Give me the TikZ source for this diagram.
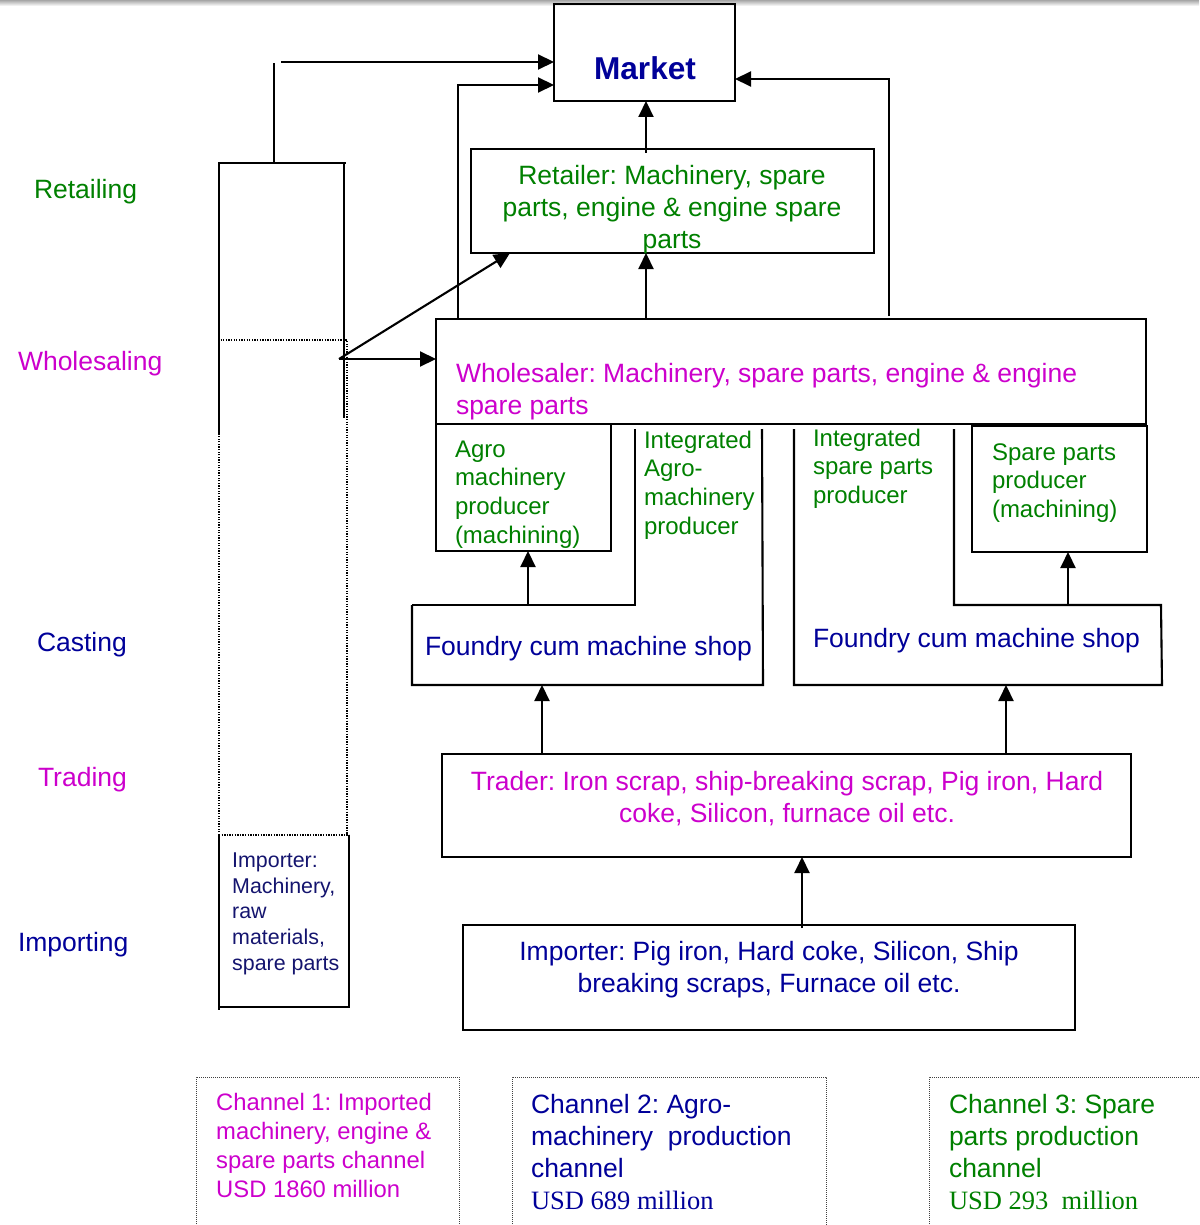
\documentclass[tikz,border=0pt]{standalone}
\usepackage{fontspec}
\setmainfont{Liberation Sans}
\newfontfamily\timesf{Liberation Serif}
\usetikzlibrary{arrows.meta}
\definecolor{cgreen}{RGB}{0,128,0}
\definecolor{cmag}{RGB}{204,0,204}
\definecolor{cnavy}{RGB}{0,0,153}
\definecolor{cdnavy}{RGB}{20,20,110}
\frenchspacing
\tikzset{
  box/.style={draw=black, line width=1.3pt, rectangle, inner sep=0pt, outer sep=0pt, anchor=north west},
  conn/.style={draw=black, line width=2.1pt},
  arr/.style={conn, -{Triangle[length=16pt,width=15pt]}},
  lbl/.style={inner sep=0pt, outer sep=0pt, font=\fontsize{26.5}{32}\selectfont},
  sml/.style={inner sep=0pt, outer sep=0pt, font=\fontsize{24}{28.7}\selectfont, align=left, anchor=base west, text=cgreen},
  dotline/.style={draw=black, line width=1.3pt, dash pattern=on 1.3pt off 1.3pt},
  chbox/.style={draw=black!75, line width=1pt, dash pattern=on 1pt off 1pt}
}
\begin{document}
\begin{tikzpicture}[x=1pt,y=-1pt]
\useasboundingbox (0,0) rectangle (1199,1225);
\shade[top color=black!35, bottom color=white] (0,0) rectangle (1199,6);

% side labels
\node[lbl, anchor=base west, text=cgreen] (lretail) at (34,198.5) {Retailing};
\node[lbl, anchor=base west, text=cmag] (lwhole) at (18,370.5) {Wholesaling};
\node[lbl, anchor=base west, text=cnavy] (lcast) at (37,651.5) {Casting};
\node[lbl, anchor=base west, text=cmag] (ltrade) at (38,786.5) {Trading};
\node[lbl, anchor=base west, text=cnavy] (limport) at (18,951.5) {Importing};

% boxes (text nodes anchored at the baseline of their last line)
\node[box, minimum width=181pt, minimum height=97pt] (mk) at (554,4) {};
\node[inner sep=0pt, anchor=base, text=cnavy, font=\fontsize{31.6}{36}\selectfont\bfseries] (mkt) at (645,80) {Market};

\node[box, minimum width=403pt, minimum height=104pt] (ret) at (471,149) {};
\node[lbl, align=center, anchor=base, text=cgreen] (rett) at (672,248.5) {Retailer: Machinery, spare\\parts, engine \& engine spare\\parts};

\node[box, minimum width=710pt, minimum height=105pt] (whole) at (436,319) {};
\node[lbl, align=left, anchor=base west, text=cmag] (wholet) at (456,414) {Wholesaler: Machinery, spare parts, engine \& engine\\spare parts};

\node[box, minimum width=175pt, minimum height=127pt] (agro) at (436,424) {};
\node[sml] (agrot) at (455,543.1) {Agro\\machinery\\producer\\(machining)};

\node[box, minimum width=175pt, minimum height=126pt] (spp) at (972,426) {};
\node[sml] (sppt) at (992,517.4) {Spare parts\\producer\\(machining)};

\node[sml] (intagro) at (644,534.1) {Integrated\\Agro-\\machinery\\producer};
\node[sml] (intspp) at (813,503.4) {Integrated\\spare parts\\producer};

% foundry shapes
\draw[conn] (412,605) -- (635,605) -- (635,429);
\draw[conn] (412,605) -- (412,685) -- (763,685) -- (762,429);
\draw[conn] (794,429) -- (794,685) -- (1162,685) -- (1161,605) -- (954,605) -- (954,429);
\node[lbl, anchor=base west, text=cnavy] (f1) at (425,655) {Foundry cum machine shop};
\node[lbl, anchor=base west, text=cnavy] (f2) at (813,647.5) {Foundry cum machine shop};

\node[box, minimum width=689pt, minimum height=103pt] (trader) at (442,754) {};
\node[lbl, align=center, anchor=base, text=cmag] (tradert) at (787,822.5) {Trader: Iron scrap, ship-breaking scrap, Pig iron, Hard\\coke, Silicon, furnace oil etc.};

\node[box, minimum width=612pt, minimum height=105pt] (imp) at (463,925) {};
\node[lbl, align=center, anchor=base, text=cnavy] (impt) at (769,992.5) {Importer: Pig iron, Hard coke, Silicon, Ship\\breaking scraps, Furnace oil etc.};

% left channel column
\draw[conn] (219,435) -- (219,163) -- (346,163);
\draw[conn] (344,163) -- (344,418);
\draw[dotline] (219,835) -- (219,340) -- (347,340) -- (347,835);
\draw[dotline] (219,835) -- (349,835);
\draw[conn] (219,835) -- (219,1010);
\draw[conn] (349,835) -- (349,1008);
\draw[conn] (219,1007) -- (349,1007);
\node[inner sep=0pt, align=left, anchor=base west, text=cdnavy, font=\fontsize{21.4}{25.7}\selectfont] (impl) at (232,970.3) {Importer:\\Machinery,\\raw\\materials,\\spare parts};

% named points
\coordinate (ctop) at (274,163);
\coordinate (ctopend) at (274,63);
\coordinate (cstart) at (281,62);
\coordinate (wp) at (339,359);
\coordinate (x458) at (458,0);
\coordinate (x889) at (889,0);
\coordinate (x646) at (646,0);
\coordinate (x528) at (528,0);
\coordinate (x1068) at (1068,0);
\coordinate (x542) at (542,0);
\coordinate (x1006) at (1006,0);
\coordinate (x802) at (802,0);
\coordinate (y62) at (0,62);
\coordinate (y85) at (0,85);
\coordinate (y79) at (0,79);
\coordinate (f1bot) at (542,685);
\coordinate (f2bot) at (1006,685);
\coordinate (f1top) at (528,605);
\coordinate (f2top) at (1068,605);
\coordinate (rettip) at (510,253);

% connectors
\draw[conn] (ctop) -- (ctopend);
\draw[arr] (cstart) -- (mk.west |- y62);
\draw[arr] (whole.north -| x458) |- (mk.west |- y85);
\draw[arr] ([yshift=3pt]whole.north -| x889) |- (mk.east |- y79);
\draw[arr] ([yshift=-4pt]ret.north -| x646) -- (mk.south -| x646);
\draw[arr] (whole.north -| x646) -- (ret.south -| x646);
\draw[arr] (wp) -- (whole.west |- wp);
\draw[arr] (wp) -- (rettip);
\draw[arr] (f1top) -- (agro.south -| x528);
\draw[arr] (f2top) -- (spp.south -| x1068);
\draw[arr] (trader.north -| x542) -- (f1bot);
\draw[arr] (trader.north -| x1006) -- (f2bot);
\draw[arr] ([yshift=-3pt]imp.north -| x802) -- (trader.south -| x802);

% channel boxes
\draw[chbox] (196,1240) -- (196,1077) -- (459,1077) -- (459,1240);
\draw[chbox] (512,1240) -- (512,1077) -- (826,1077) -- (826,1240);
\draw[chbox] (929,1240) -- (929,1077) -- (1210,1077);
\node[inner sep=0pt, align=left, anchor=base west, text=cmag, font=\fontsize{23.8}{29}\selectfont] (ch1) at (216,1197) {Channel 1: Imported\\machinery, engine \&\\spare parts channel\\USD 1860 million};
\node[lbl, align=left, anchor=base west, text=cnavy] (ch2) at (531,1209) {Channel 2: Agro-\\machinery\ \ production\\channel\\{\timesf USD 689 million}};
\node[lbl, align=left, anchor=base west, text=cgreen] (ch3) at (949,1209) {Channel 3: Spare\\parts production\\channel\\{\timesf USD 293\ \ million}};
\end{tikzpicture}
\end{document}
